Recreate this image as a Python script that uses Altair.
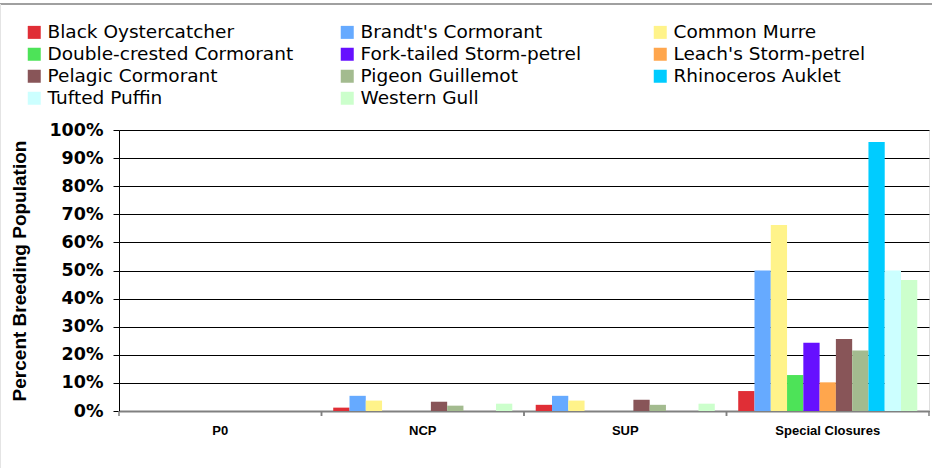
import altair as alt
import pandas as pd

categories = ["P0", "NCP", "SUP", "Special Closures"]
species = [
    "Black Oystercatcher", "Brandt's Cormorant", "Common Murre",
    "Double-crested Cormorant", "Fork-tailed Storm-petrel", "Leach's Storm-petrel",
    "Pelagic Cormorant", "Pigeon Guillemot", "Rhinoceros Auklet",
    "Tufted Puffin", "Western Gull",
]
colors = [
    "#E02E36", "#66AAFF", "#FFF38A", "#4DE358", "#6610FF", "#FFA64D",
    "#885558", "#A3BB8F", "#00CCFF", "#CCFFFF", "#CCFFCC",
]
p0_values = [0, 0, 0, 0, 0, 0, 0, 0, 0, 0, 0]
ncp_values = [1.2, 5.4, 3.7, 0, 0, 0, 3.3, 1.9, 0, 0, 2.6]
sup_values = [2.2, 5.4, 3.7, 0, 0, 0, 4.0, 2.2, 0, 0, 2.6]
special_values = [7.1, 50.0, 66.2, 12.8, 24.3, 10.2, 25.6, 21.5, 95.7, 50.0, 46.6]

rows = []
for cat, vals in zip(categories, [p0_values, ncp_values, sup_values, special_values]):
    for sp, v in zip(species, vals):
        rows.append({"cat": cat, "species": sp, "value": v})
df = pd.DataFrame(rows)
cat_df = pd.DataFrame({"cat": categories})

W, H = 810, 281

x_enc = alt.X(
    "cat:N", sort=categories,
    scale=alt.Scale(domain=categories, paddingInner=0, paddingOuter=0),
    axis=alt.Axis(
        title=None, ticks=False, labelAngle=0, labelFont="Liberation Sans",
        labelFontWeight="bold", labelFontSize=13, labelColor="black",
        labelPadding=13, domainColor="#808080", domainWidth=2,
    ),
)

bars = alt.Chart(df).transform_filter("datum.value > 0").mark_bar().encode(
    x=x_enc,
    xOffset=alt.XOffset(
        "species:N",
        scale=alt.Scale(domain=species, paddingInner=0, paddingOuter=0.72),
    ),
    y=alt.Y(
        "value:Q",
        scale=alt.Scale(domain=[0, 100], nice=False),
        axis=alt.Axis(
            title="Percent Breeding Population",
            values=list(range(0, 101, 10)),
            labelExpr="datum.value + '%'",
            grid=True, gridColor="black", gridWidth=1,
            domainColor="black", domainWidth=1,
            tickColor="black", tickSize=6, tickWidth=1,
            labelFont="DejaVu Sans", labelFontWeight="bold", labelFontSize=17.5,
            labelColor="black", labelPadding=10,
            titleFont="Liberation Sans", titleFontWeight="bold", titleFontSize=19,
            titleColor="black", titleAngle=-90, titleBaseline="middle",
            titleAlign="center", titleX=-100, titleY=H / 2,
        ),
    ),
    color=alt.Color(
        "species:N",
        scale=alt.Scale(domain=species, range=colors),
        legend=alt.Legend(
            title=None, orient="none", legendX=-94, legendY=-107,
            direction="horizontal",
            columns=3, gridAlign="all", columnPadding=44, rowPadding=3,
            symbolType="square", symbolSize=169, symbolStrokeWidth=0,
            symbolOffset=0, labelOffset=4, labelLimit=400,
            labelFont="DejaVu Sans", labelFontSize=18.5, labelColor="black",
            padding=0,
        ),
    ),
)

ticks_start = alt.Chart(cat_df).mark_rule(color="#808080", strokeWidth=1.5).encode(
    x=alt.X("cat:N", sort=categories, bandPosition=0),
    y=alt.value(H), y2=alt.value(H + 5),
)
ticks_end = alt.Chart(cat_df).mark_rule(color="#808080", strokeWidth=1.5).encode(
    x=alt.X("cat:N", sort=categories, bandPosition=1),
    y=alt.value(H), y2=alt.value(H + 5),
)
border = alt.Chart(cat_df.head(1)).mark_rule(color="#808080", strokeWidth=1.5).encode(
    x=alt.value(-119), x2=alt.value(W + 3), y=alt.value(-126),
)
left_border = alt.Chart(cat_df.head(1)).mark_rule(color="#E4E4E4", strokeWidth=1).encode(
    x=alt.value(-118.5), y=alt.value(-126), y2=alt.value(H + 57),
)

chart = alt.layer(border, left_border, bars, ticks_start, ticks_end).properties(
    width=W, height=H,
    padding={"left": 119, "top": 130, "right": 3, "bottom": 57},
    autosize=alt.AutoSizeParams(type="none"),
).configure_view(stroke=None).configure(background="white")

chart.save("out.html", embed_options={"renderer": "svg", "actions": False})
